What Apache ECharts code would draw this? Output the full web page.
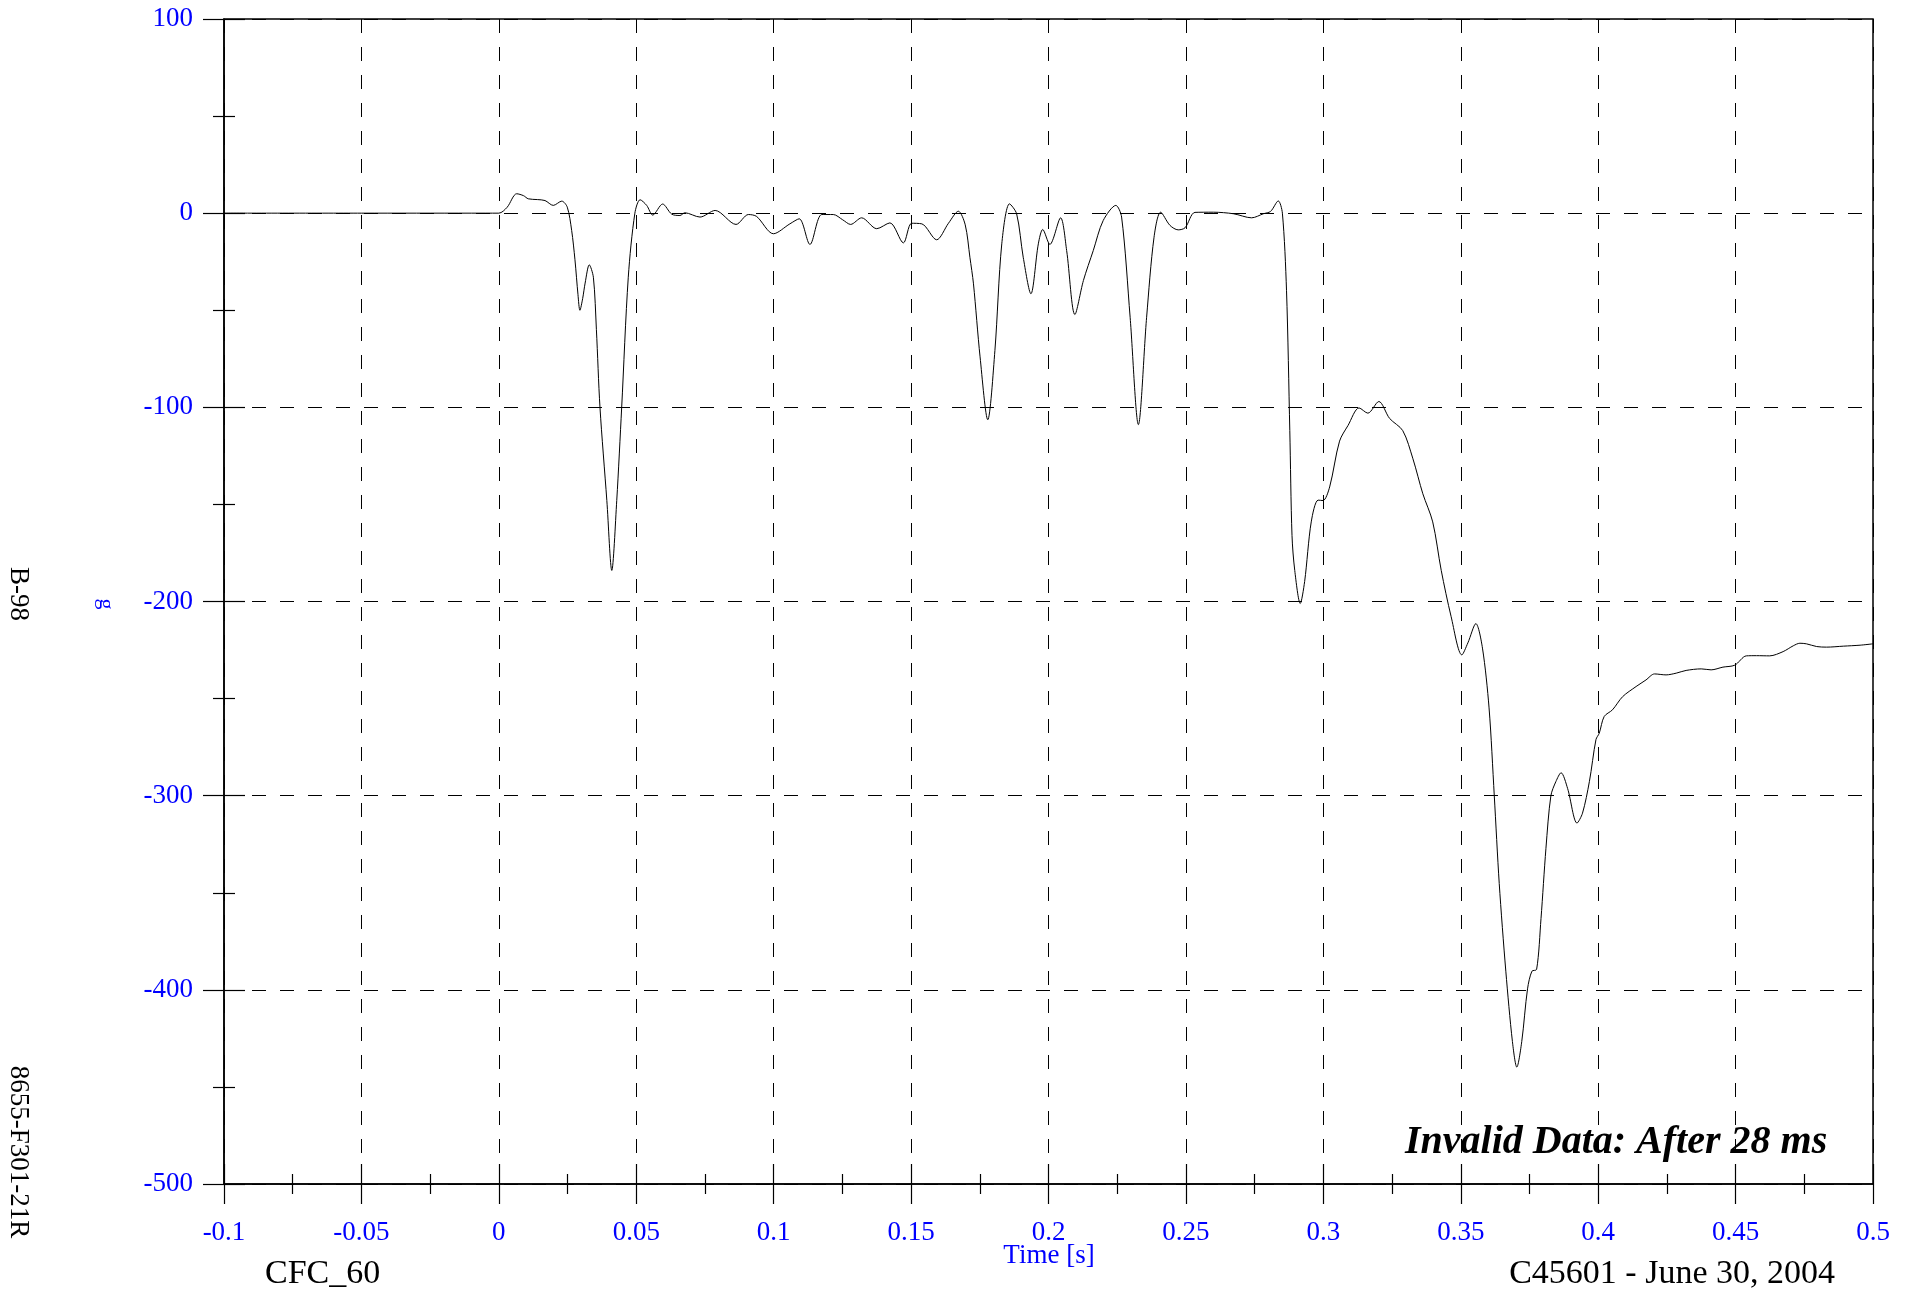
<!DOCTYPE html>
<html>
<head>
<meta charset="utf-8">
<script src="https://cdn.jsdelivr.net/npm/echarts@6/dist/echarts.min.js"></script>
<style>
html,body{margin:0;padding:0;background:#fff;}
#chart{width:1916px;height:1290px;}
</style>
</head>
<body>
<div id="chart"></div>
<script>
// Time in seconds
var timeS = [
-0.1,-0.05,-0.01,0.0,0.003,0.0065,0.009,0.0107,0.014,0.0168,0.0198,0.0229,0.0249,0.0265,0.0277,0.0288,0.0295,0.0305,0.0314,0.0329,
0.0344,0.0355,0.0368,0.0393,0.0411,0.0429,0.0447,0.0471,0.0495,0.0514,0.0538,0.0560,0.0596,0.0629,0.0659,0.0677,0.0732,0.0787,0.0863,0.0908,
0.0938,0.0999,0.1059,0.1093,0.1132,0.1175,0.1217,0.1251,0.1280,0.1320,0.1375,0.1423,0.1472,0.1502,0.1539,0.1593,0.1636,0.1672,0.1697,0.1714,
0.1727,0.1751,0.1779,0.1805,0.1830,0.1858,0.1884,0.1908,0.1936,0.1963,0.1979,0.2005,0.2044,0.2066,0.2096,0.2127,0.2163,0.2199,0.2245,0.2266,
0.2297,0.2327,0.2357,0.2384,0.2408,0.2442,0.2472,0.2497,0.2533,0.2600,0.2673,0.2739,0.2782,0.2808,0.2836,0.2851,0.2866,0.2878,0.2886,0.2896,
0.2916,0.2932,0.2956,0.2981,0.2999,0.3023,0.3059,0.3090,0.3130,0.3162,0.3202,0.3241,0.3289,0.3326,0.3362,0.3398,0.3429,0.3465,0.3504,0.3526,
0.3555,0.3579,0.3603,0.3622,0.3640,0.3664,0.3688,0.3704,0.3722,0.3743,0.3759,0.3776,0.3792,0.3810,0.3828,0.3846,0.3865,0.3889,0.3923,0.3943,
0.3968,0.3992,0.4004,0.4022,0.4052,0.4089,0.4138,0.4174,0.4205,0.4247,0.4284,0.4320,0.4375,0.4411,0.4454,0.4497,0.4539,0.4576,0.4624,0.4673,
0.4710,0.4734,0.4758,0.4795,0.4831,0.4892,0.4953,0.5
];
// Acceleration in g
var accelG = [
0,0,0,0,3,10,9,7.4,7,6.5,4.0,6.2,3.1,-8.9,-24,-42,-50,-44,-36,-26.6,
-33,-60,-100,-148,-184,-148,-100,-33,0,6.9,4,-1.0,4.7,-0.5,-1.2,0.2,-2,1.4,-5.8,-0.7,
-1.7,-10.6,-5.5,-2.9,-16.1,-0.7,-0.7,-3.4,-5.8,-2.4,-8.0,-5.0,-15.3,-5.2,-5.5,-13.7,-5.2,1.0,-6,-22.7,
-36.4,-74,-106.4,-70.7,-15.8,4.8,-0.3,-22.7,-41.5,-15.8,-8.4,-16.1,-2.4,-19.2,-52.2,-34.7,-19.2,-3.8,4.0,-2,
-53.6,-108.9,-53.6,-12.4,0.5,-6.3,-8.6,-7.5,0.4,0.5,-0.3,-2.4,-0.3,0.9,6.3,0,-39.7,-112,-166,-184,
-201,-189.7,-159,-147.8,-148,-141,-117.4,-109.3,-100.3,-103,-97,-105.7,-112,-126.5,-144.5,-159,-184,-207.8,-227.5,-221.3,
-211.4,-224,-254.8,-300,-345.2,-390.4,-426.6,-439.8,-426.6,-399.5,-390.4,-389.5,-363.3,-327.1,-300,-292.8,-288.2,-296.4,-314.1,-309,
-292.8,-271.1,-267.8,-259.2,-255.8,-249,-243.8,-240.4,-237.3,-237.8,-236.9,-235.5,-234.7,-235.2,-233.8,-232.8,-228,-227.9,-228,-225.8,
-222.8,-221.5,-221.8,-223.2,-223.5,-223,-222.5,-221.8
];
var xRange = [-0.1, 0.5];
var xStep = 0.05;
var yRange = [-500, 100];
var yStep = 100;
var xTitle = 'Time [s]';
var yTitle = 'g';
var filterText = 'CFC_60';
var testText = 'C45601 - June 30, 2004';
var noteText = 'Invalid Data: After 28 ms';
var sideTop = 'B-98';
var sideBottom = '8655-F301-21R';

var FONT = "'Liberation Serif','Times New Roman',serif";
var BLUE = '#0000ff';

function fmtX(v){ var r = Math.round(v*100)/100; return String(r); }

var seriesData = timeS.map(function(t,i){ return [t, accelG[i]]; });

var chart = echarts.init(document.getElementById('chart'), null, {renderer:'canvas'});

var commonX = {
  type:'value', min:xRange[0], max:xRange[1], interval:xStep, position:'bottom'
};
var commonY = {
  type:'value', min:yRange[0], max:yRange[1], interval:yStep, position:'left'
};

chart.setOption({
  animation:false,
  backgroundColor:'#fff',
  grid:{left:224, right:43, top:19, bottom:106, show:true, borderColor:'#000', borderWidth:1.5, backgroundColor:'transparent'},
  xAxis:[
    Object.assign({}, commonX, {
      axisLine:{show:true, onZero:false, lineStyle:{color:'#000', width:1.5}},
      axisTick:{show:true, inside:false, length:20, lineStyle:{color:'#000', width:1.2}},
      minorTick:{show:true, splitNumber:2, length:10, lineStyle:{color:'#000', width:1.2}},
      axisLabel:{show:true, margin:35, color:BLUE, fontFamily:FONT, fontSize:27, formatter:fmtX, showMinLabel:true, showMaxLabel:true},
      splitLine:{show:true, lineStyle:{color:'#000', width:1, type:[14,14]}}
    }),
    Object.assign({}, commonX, {
      axisLine:{show:false, onZero:false},
      axisTick:{show:true, inside:true, length:20, lineStyle:{color:'#000', width:1.2}},
      minorTick:{show:true, splitNumber:2, length:10, lineStyle:{color:'#000', width:1.2}},
      axisLabel:{show:false},
      splitLine:{show:false}
    })
  ],
  yAxis:[
    Object.assign({}, commonY, {
      axisLine:{show:true, onZero:false, lineStyle:{color:'#000', width:1.5}},
      axisTick:{show:true, inside:false, length:21, lineStyle:{color:'#000', width:1.2}},
      minorTick:{show:true, splitNumber:2, length:11, lineStyle:{color:'#000', width:1.2}},
      axisLabel:{show:true, margin:31, color:BLUE, fontFamily:FONT, fontSize:27, showMinLabel:true, showMaxLabel:true},
      splitLine:{show:true, lineStyle:{color:'#000', width:1, type:[14,14]}}
    }),
    Object.assign({}, commonY, {
      axisLine:{show:false, onZero:false},
      axisTick:{show:true, inside:true, length:21, lineStyle:{color:'#000', width:1.2}},
      minorTick:{show:true, splitNumber:2, length:11, lineStyle:{color:'#000', width:1.2}},
      axisLabel:{show:false},
      splitLine:{show:false}
    })
  ],
  series:[{
    type:'line', xAxisIndex:0, yAxisIndex:0, data:seriesData,
    showSymbol:false, smooth:0.3, clip:true,
    lineStyle:{color:'#000', width:1}
  }],
  graphic:[
    {type:'text', x:1049, y:1256, style:{text:xTitle, fill:BLUE, font:'27px '+FONT, align:'center', verticalAlign:'middle'}},
    {type:'text', x:265, y:1274, style:{text:filterText, fill:'#000', font:'34px '+FONT, align:'left', verticalAlign:'middle'}},
    {type:'text', x:1835, y:1274, style:{text:testText, fill:'#000', font:'34px '+FONT, align:'right', verticalAlign:'middle'}},
    {type:'text', x:1405, y:1143, z:100, style:{text:noteText, fill:'#000', font:'italic bold 40px '+FONT, align:'left', verticalAlign:'middle'}},
    {type:'text', x:18, y:594, rotation:-Math.PI/2, style:{text:sideTop, fill:'#000', font:'27px '+FONT, align:'center', verticalAlign:'middle'}},
    {type:'text', x:18, y:1152, rotation:-Math.PI/2, style:{text:sideBottom, fill:'#000', font:'27px '+FONT, align:'center', verticalAlign:'middle'}},
    {type:'text', x:106, y:604, rotation:-Math.PI/2, style:{text:yTitle, fill:BLUE, font:'22px '+FONT, align:'center', verticalAlign:'middle'}}
  ]
});
</script>
</body>
</html>
